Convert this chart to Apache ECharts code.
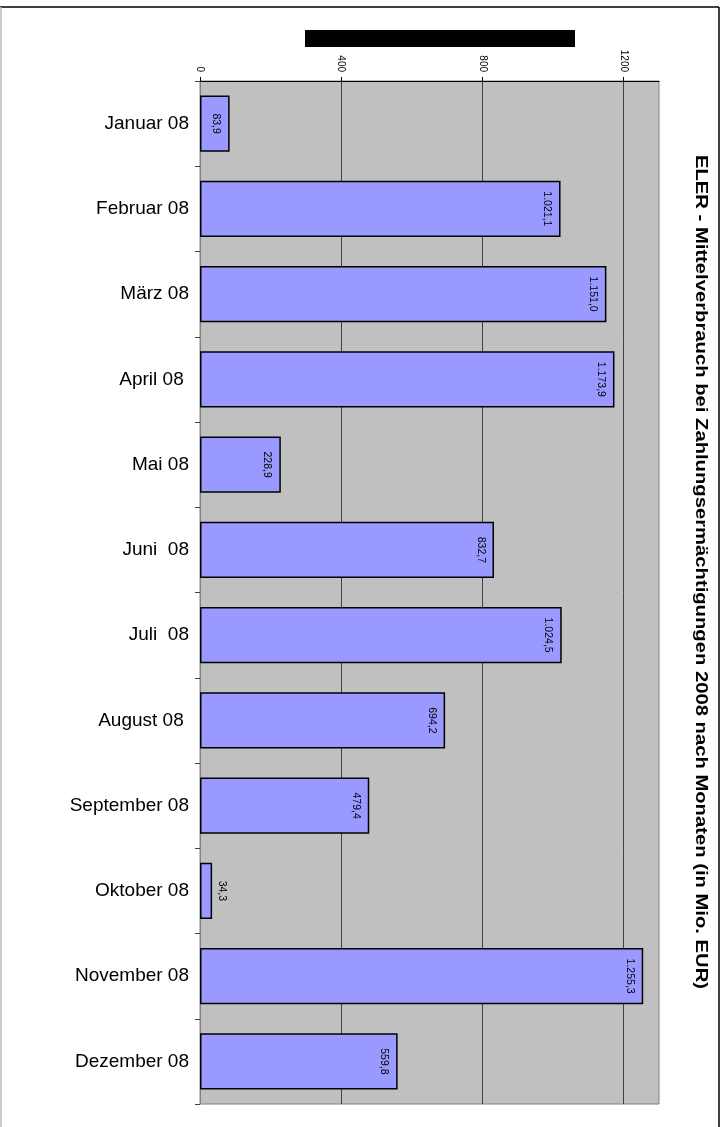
<!DOCTYPE html>
<html>
<head>
<meta charset="utf-8">
<script src="https://cdn.jsdelivr.net/npm/echarts@6/dist/echarts.min.js"></script>
<style>
html,body{margin:0;padding:0;background:#fff;}
#c{width:726px;height:1127px;}
</style>
</head>
<body>
<div id="c"></div>
<script>
const categories = ['Januar 08','Februar 08','März 08','April 08 ','Mai 08','Juni  08','Juli  08','August 08 ','September 08','Oktober 08','November 08','Dezember 08'];
const values = [83.9, 1021.1, 1151.0, 1173.9, 228.9, 832.7, 1024.5, 694.2, 479.4, 34.3, 1255.3, 559.8];
const valueTicks = [0, 400, 800, 1200];
const titleText = 'ELER - Mittelverbrauch bei Zahlungsermächtigungen 2008 nach Monaten (in Mio. EUR)';

function deFmt(v){
  const s = v.toFixed(1).split('.');
  const int = s[0].replace(/\B(?=(\d{3})+(?!\d))/g, '.');
  return int + ',' + s[1];
}

const FONT = "'Liberation Sans', Arial, sans-serif";
const data = values.map(v => {
  const item = {value: v};
  if (v < 60) {
    item.label = {position: 'right', verticalAlign: 'bottom', distance: 4};
  }
  return item;
});

const chart = echarts.init(document.getElementById('c'), null, {renderer:'canvas'});
chart.setOption({
  animation: false,
  backgroundColor: '#ffffff',
  grid: {left: 200, top: 81, width: 459, height: 1023, show: true, backgroundColor: '#C0C0C0', borderColor: '#808080', borderWidth: 1},
  xAxis: {
    type: 'value', position: 'top', min: valueTicks[0], max: 1300, interval: valueTicks[1] - valueTicks[0],
    axisLine: {show: true, lineStyle: {color: '#000', width: 1}},
    axisTick: {show: true, length: 4, lineStyle: {color: '#000'}},
    axisLabel: {rotate: 90, fontSize: 10, fontFamily: FONT, color: '#000', margin: 9, showMaxLabel: false,
      formatter: v => valueTicks.indexOf(v) >= 0 ? String(v) : ''},
    splitLine: {show: true, showMinLine: false, showMaxLine: false, lineStyle: {color: '#404040', width: 1}}
  },
  yAxis: {
    type: 'category', data: categories, inverse: true,
    axisLine: {show: true, lineStyle: {color: '#808080'}},
    axisTick: {show: true, length: 5, lineStyle: {color: '#404040'}},
    axisLabel: {fontSize: 19, fontFamily: FONT, color: '#000', margin: 11}
  },
  series: [{
    type: 'bar', data: data, barCategoryGap: '34%',
    itemStyle: {color: '#9999FF', borderColor: '#000', borderWidth: 1.5},
    label: {show: true, position: 'insideRight', rotate: -90, align: 'center', verticalAlign: 'top', distance: 8,
      fontSize: 10.5, fontFamily: FONT, color: '#000', formatter: p => deFmt(p.value)}
  }],
  graphic: [
    {type: 'line', shape: {x1: 0, y1: 7, x2: 719, y2: 7}, style: {stroke: '#000', lineWidth: 1.5}},
    {type: 'line', shape: {x1: 719, y1: 7, x2: 719, y2: 1127}, style: {stroke: '#000', lineWidth: 1.5}},
    {type: 'line', shape: {x1: 1, y1: 7, x2: 1, y2: 1127}, style: {stroke: '#bbbbbb', lineWidth: 1.5}},
    {type: 'rect', shape: {x: 305, y: 30, width: 270, height: 17}, style: {fill: '#000'}},
    {type: 'text', x: 701, y: 572, rotation: -Math.PI/2, scaleX: 1.19, scaleY: 1,
      style: {text: titleText, font: "bold 17px 'Liberation Sans', Arial, sans-serif", fill: '#000', align: 'center', verticalAlign: 'middle'}}
  ]
});
</script>
</body>
</html>
